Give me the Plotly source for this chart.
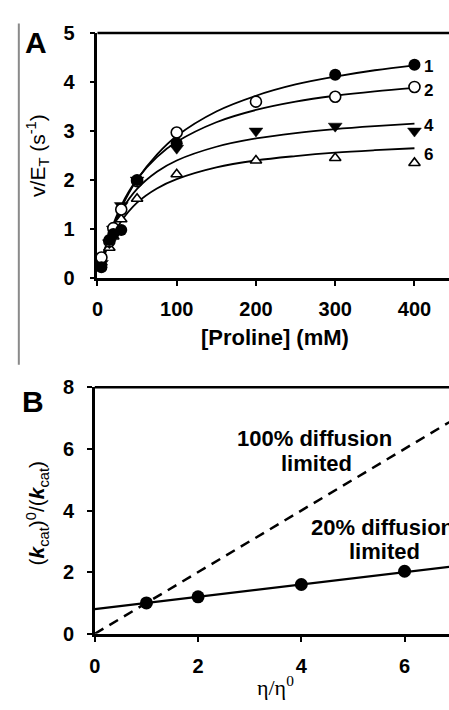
import plotly.graph_objects as go

W, H = 449, 710

# ---------------- Panel A data ----------------
proline = [5, 15, 20, 30, 50, 100, 200, 300, 400]
s1 = [0.22, 0.78, 0.90, 0.98, 2.00, 2.75, None, 4.15, 4.35]
s2 = [0.42, 0.75, 1.02, 1.40, 1.98, 2.97, 3.60, 3.70, 3.90]
s4 = [0.30, 0.72, 1.00, 1.48, 2.00, 2.65, 3.00, 3.10, 3.00]
s6 = [0.32, 0.62, 0.85, 1.20, 1.62, 2.12, 2.40, 2.45, 2.35]

fit_x = [5, 15, 30, 50, 75, 100, 150, 200, 250, 300, 350, 400]
fit1 = [0.31, 0.83, 1.43, 2.01, 2.52, 2.90, 3.40, 3.72, 3.95, 4.11, 4.24, 4.34]
fit2 = [0.34, 0.88, 1.48, 2.02, 2.47, 2.78, 3.18, 3.43, 3.60, 3.72, 3.81, 3.88]
fit4 = [0.34, 0.85, 1.37, 1.82, 2.17, 2.40, 2.68, 2.85, 2.96, 3.04, 3.10, 3.15]
fit6 = [0.29, 0.72, 1.16, 1.54, 1.83, 2.02, 2.26, 2.40, 2.49, 2.56, 2.61, 2.65]

series_labels = ["1", "2", "4", "6"]
label_y = [4.32, 3.83, 3.11, 2.52]

# ---------------- Panel B data ----------------
eta = [1, 2, 4, 6]
kratio = [1.00, 1.20, 1.60, 2.03]
line100_x = [0, 7]
line100_y = [0, 7]
line20_x = [0, 7]
line20_y = [0.80, 2.20]

def px_x(p):
    return p / W

def px_y(p):
    return 1 - p / H

FONT = "Liberation Sans, Arial, sans-serif"

fig = go.Figure()

for fy in [fit1, fit2, fit4, fit6]:
    fig.add_trace(go.Scatter(x=fit_x, y=fy, mode="lines", line=dict(color="black", width=1.8, shape="spline"),
                             xaxis="x", yaxis="y", hoverinfo="skip", cliponaxis=False))

fig.add_trace(go.Scatter(x=proline, y=s6, mode="markers", xaxis="x", yaxis="y", cliponaxis=False,
                         marker=dict(symbol="triangle-up", size=10, color="white", line=dict(color="black", width=1.6))))
fig.add_trace(go.Scatter(x=proline, y=s4, mode="markers", xaxis="x", yaxis="y", cliponaxis=False,
                         marker=dict(symbol="triangle-down", size=12, color="black", line=dict(color="black", width=0.5))))
fig.add_trace(go.Scatter(x=proline, y=s2, mode="markers", xaxis="x", yaxis="y", cliponaxis=False,
                         marker=dict(symbol="circle", size=11, color="white", line=dict(color="black", width=1.6))))
fig.add_trace(go.Scatter(x=proline, y=s1, mode="markers", xaxis="x", yaxis="y", cliponaxis=False,
                         marker=dict(symbol="circle", size=12, color="black")))

fig.add_trace(go.Scatter(x=line100_x, y=line100_y, mode="lines", xaxis="x2", yaxis="y2",
                         line=dict(color="black", width=2.5, dash="10px,7px")))
fig.add_trace(go.Scatter(x=line20_x, y=line20_y, mode="lines", xaxis="x2", yaxis="y2",
                         line=dict(color="black", width=2.4)))
fig.add_trace(go.Scatter(x=eta, y=kratio, mode="markers", xaxis="x2", yaxis="y2", cliponaxis=False,
                         marker=dict(symbol="circle", size=13, color="black")))

axis_common = dict(showgrid=False, zeroline=False, showline=True, linecolor="black", linewidth=2.5,
                   ticks="outside", ticklen=5, tickwidth=2, tickcolor="black",
                   tickfont=dict(family=FONT, size=20, color="black", weight="bold"))

xA0 = 92.7
yA_top, yA_bot = 22.7, 275.7
xB0 = 90
yB_top, yB_bot = 388.3, 642.7

fig.update_layout(
    width=W, height=H, margin=dict(l=0, r=0, t=0, b=0, pad=0), autosize=False,
    paper_bgcolor="white", plot_bgcolor="white", showlegend=False,
    xaxis=dict(domain=[px_x(xA0), 1], range=[0, 400 * (449 - 92.7) / 321.3], tickvals=[0, 100, 200, 300, 400],
               anchor="y", ticklabelstandoff=6, **axis_common),
    yaxis=dict(domain=[px_y(yA_bot), px_y(yA_top)], range=[0, 5], tickvals=[0, 1, 2, 3, 4, 5],
               anchor="x", ticklabelstandoff=11, **axis_common),
    xaxis2=dict(domain=[px_x(xB0), 1], range=[0, (449 - 90) / 52.33], tickvals=[0, 2, 4, 6],
                anchor="y2", ticklabelstandoff=7, **axis_common),
    yaxis2=dict(domain=[px_y(yB_bot), px_y(yB_top)], range=[0, 8], tickvals=[0, 2, 4, 6, 8],
                anchor="x2", ticklabelstandoff=9, **axis_common),
)

shapes = [
    dict(type="line", xref="paper", yref="paper", x0=px_x(xA0), x1=1, y0=px_y(yA_top), y1=px_y(yA_top),
         line=dict(color="black", width=2.5)),
    dict(type="line", xref="paper", yref="paper", x0=px_x(xB0), x1=1, y0=px_y(yB_top), y1=px_y(yB_top),
         line=dict(color="black", width=2.5)),
    dict(type="line", xref="paper", yref="paper", x0=px_x(13), x1=px_x(13), y0=px_y(13), y1=px_y(365),
         line=dict(color="#8a8a8a", width=2)),
]
fig.update_layout(shapes=shapes)

ann = []
def pann(text, x, y, size, bold=False, angle=0, xanchor="center", family=FONT):
    ann.append(dict(text=(f"<b>{text}</b>" if bold else text), x=px_x(x), y=px_y(y), xref="paper", yref="paper",
                    showarrow=False, textangle=angle, xanchor=xanchor, yanchor="middle",
                    font=dict(family=family, size=size, color="black")))

pann("A", 30, 33, 30, bold=True)
pann("B", 27, 403, 30, bold=True)
pann("[Proline] (mM)", 273, 337, 22, bold=True)
pann("v/E<sub>T</sub> (s<sup>-1</sup>)", 32, 149, 21, angle=-90)
pann("(<b><i>k</i></b><sub>cat</sub>)<sup>0</sup>/(<b><i>k</i></b><sub>cat</sub>)", 32, 518, 21, angle=-90)
pann("η/η<sup>0</sup>", 273, 697, 22, family="Liberation Serif, Times New Roman, serif")
pann("100% diffusion", 313, 441, 22, bold=True)
pann("limited", 315, 467, 22, bold=True)
pann("20% diffusion", 307, 533, 22, bold=True, xanchor="left")
pann("limited", 384, 558, 22, bold=True)

for lab, ly in zip(series_labels, label_y):
    ann.append(dict(text=f"<b>{lab}</b>", x=409, y=ly, xref="x", yref="y", showarrow=False, xanchor="left",
                    yanchor="middle", font=dict(family=FONT, size=17, color="black")))

fig.update_layout(annotations=ann)

fig.write_html("out.html", config={"displayModeBar": False},
               post_script="document.body.style.margin='0';document.body.style.padding='0';document.body.style.overflow='hidden';")
